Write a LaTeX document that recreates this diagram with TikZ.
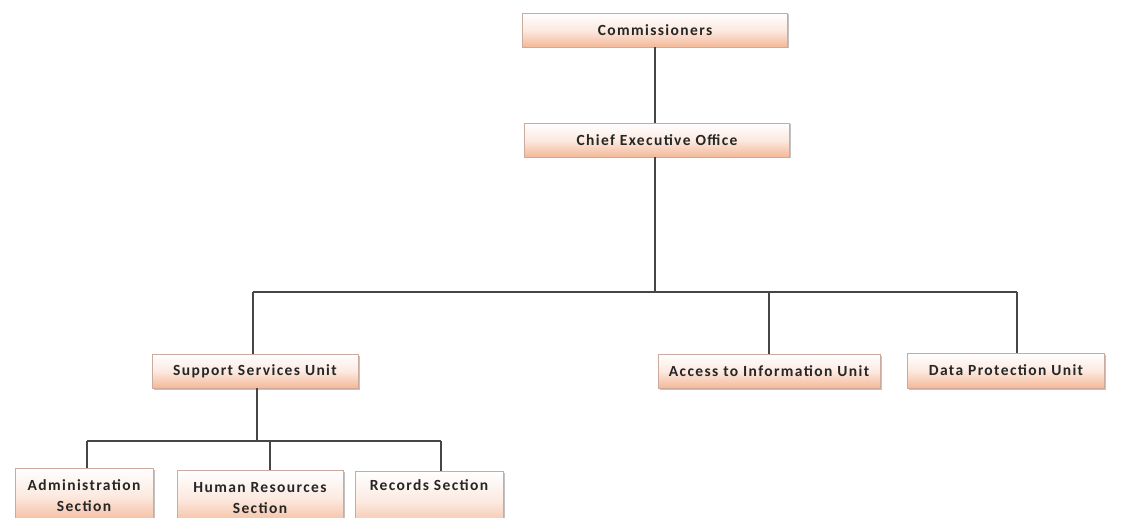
\documentclass[tikz,border=0pt]{standalone}
\usepackage{fontspec}
\setmainfont{Carlito}[LetterSpace=9]
\usetikzlibrary{shadows}
\definecolor{peach}{RGB}{244,184,152}
\definecolor{edgec}{RGB}{205,170,160}
\definecolor{linec}{RGB}{70,70,70}
\begin{document}
\begin{tikzpicture}[x=1pt,y=-1pt,
  orgbox/.style={draw=edgec,line width=0.8pt,top color=white,bottom color=peach,
    middle color=white!70!peach,
    drop shadow={shadow xshift=1.5pt,shadow yshift=-1.5pt,fill=black!40,opacity=0.6},
    font=\bfseries\fontsize{15.5}{21}\selectfont,text=black!85,align=center,inner sep=0pt},
  conn/.style={draw=linec,line width=1.6pt}]
\useasboundingbox (0,0) rectangle (1126,518);
\clip (0,0) rectangle (1126,518);
\node[orgbox,minimum width=265pt,minimum height=34pt] (com) at (655,30) {Commissioners};
\node[orgbox,minimum width=265pt,minimum height=34pt] (ceo) at (657,140) {Chief Executive Office};
\node[orgbox,minimum width=206pt,minimum height=34pt] (ssu) at (255,371) {Support Services Unit};
\node[orgbox,minimum width=222pt,minimum height=34pt] (aiu) at (769,371) {Access to Information Unit};
\node[orgbox,minimum width=197pt,minimum height=35pt] (dpu) at (1006,370.5) {Data Protection Unit};
\node[orgbox,minimum width=138pt,minimum height=55pt,anchor=north] (adm) at (84,468) {Administration\\Section};
\node[orgbox,minimum width=166pt,minimum height=56pt,anchor=north] (hr) at (260,470) {Human Resources\\Section};
\node[orgbox,minimum width=148pt,text height=13pt,text depth=35pt,inner ysep=6pt,anchor=north] (rec) at (429,471) {Records Section};
\coordinate (j1) at (655,292);
\coordinate (j2) at (257,441);
\draw[conn] (com.south) -- (ceo.north -| com.south);
\draw[conn] (ceo.south -| j1) -- (j1);
\draw[conn] (253,292) -- (1017,292);
\draw[conn] (253,292) -- (ssu.north -| 253,0);
\draw[conn] (769,292) -- (aiu.north);
\draw[conn] (1017,292) -- (dpu.north -| 1017,0);
\draw[conn] (ssu.south -| j2) -- (j2);
\draw[conn] (87,441) -- (441,441);
\draw[conn] (87,441) -- (adm.north -| 87,0);
\draw[conn] (270,441) -- (hr.north -| 270,0);
\draw[conn] (441,441) -- (rec.north -| 441,0);
\end{tikzpicture}
\end{document}
